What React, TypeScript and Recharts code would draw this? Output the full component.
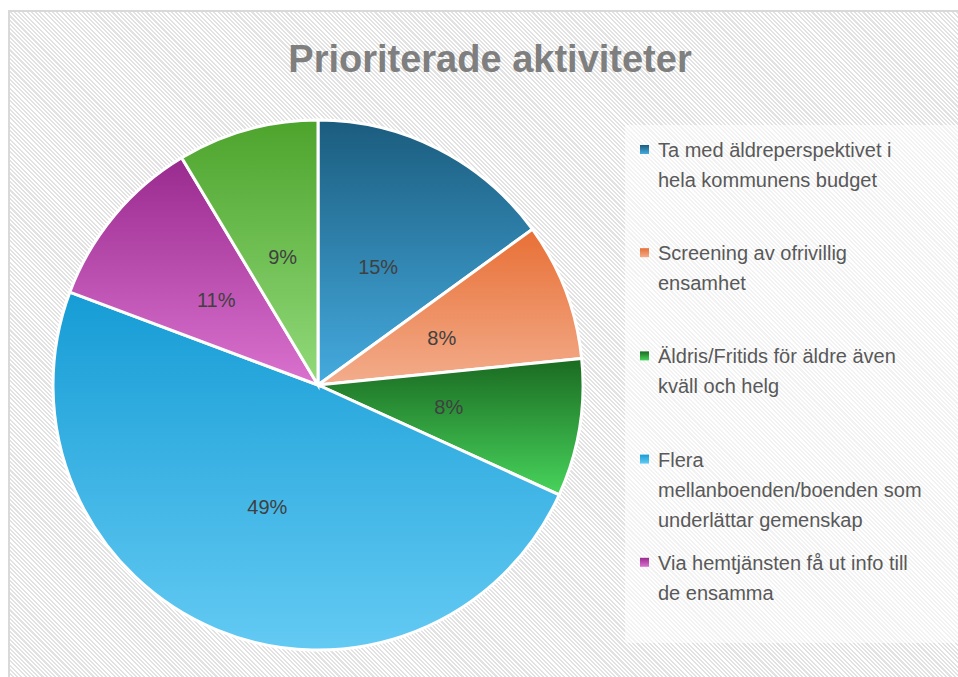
import React from "react";
import { PieChart, Pie, Cell, Legend } from "recharts";

const categories: string[] = [
  "Ta med äldreperspektivet i hela kommunens budget",
  "Screening av ofrivillig ensamhet",
  "Äldris/Fritids för äldre även kväll och helg",
  "Flera mellanboenden/boenden som underlättar gemenskap",
  "Via hemtjänsten få ut info till de ensamma",
  "",
];
const values: number[] = [15.0, 8.4, 8.4, 48.9, 10.7, 8.6];
const legendLines: string[][] = [
  ["Ta med äldreperspektivet i", "hela kommunens budget"],
  ["Screening av ofrivillig", "ensamhet"],
  ["Äldris/Fritids för äldre även", "kväll och helg"],
  ["Flera", "mellanboenden/boenden som", "underlättar gemenskap"],
  ["Via hemtjänsten få ut info till", "de ensamma"],
];
const gradTop: string[] = ["#1b5c7e", "#e86f35", "#1a6a21", "#169cd5", "#992a8e", "#4da42c"];
const gradBottom: string[] = ["#45abdf", "#f3ad8c", "#48d45c", "#63caf3", "#da72cf", "#92da7b"];
const title = "Prioriterade aktiviteter";

const data = categories.map((name, i) => ({ name, value: values[i] }));

const RAD = Math.PI / 180;

const renderLabel = (props: any) => {
  const { cx, cy, midAngle, outerRadius, percent } = props;
  const r = outerRadius * 0.5;
  const x = cx + r * Math.cos(-midAngle * RAD);
  const y = cy + r * Math.sin(-midAngle * RAD);
  return (
    <text
      x={x}
      y={y}
      fill="#404040"
      textAnchor="middle"
      dominantBaseline="central"
      fontFamily="'Liberation Sans', Arial, sans-serif"
      fontSize={20}
    >
      {`${Math.round(percent * 100)}%`}
    </text>
  );
};

const LegendContent = () => (
  <svg width={340} height={520} style={{ display: "block" }}>
    <defs>
      {gradTop.map((c, i) => (
        <linearGradient key={i} id={`lg${i}`} x1="0" y1="0" x2="0" y2="1">
          <stop offset="0%" stopColor={c} />
          <stop offset="100%" stopColor={gradBottom[i]} />
        </linearGradient>
      ))}
    </defs>
    <rect x={0} y={0} width={340} height={518} fill="#ffffff" fillOpacity={0.55} />
    {legendLines.map((lines, i) => {
      const base = 32 + i * 103.2;
      return (
        <g key={i}>
          <rect x={15} y={base - 12} width={9} height={9} fill={`url(#lg${i})`} />
          {lines.map((ln, j) => (
            <text
              key={j}
              x={33}
              y={base + j * 30}
              fill="#595959"
              fontFamily="'Liberation Sans', Arial, sans-serif"
              fontSize={20}
            >
              {ln}
            </text>
          ))}
        </g>
      );
    })}
  </svg>
);

export default function App() {
  return (
    <div style={{ position: "absolute", left: 0, top: 0, width: 958, height: 677, overflow: "hidden", background: "#ffffff" }}>
      <div
        style={{
          position: "absolute",
          left: 8,
          top: 10,
          width: 1000,
          height: 720,
          border: "2px solid #d9d9d9",
          background:
            "repeating-linear-gradient(45deg, #ffffff 0px, #ffffff 1.5px, #e2e2e2 1.5px, #e2e2e2 3px)",
        }}
      />
      <div style={{ position: "absolute", left: 0, top: 0 }}>
        <PieChart width={958} height={677}>
          <defs>
            {gradTop.map((c, i) => (
              <linearGradient key={i} id={`pg${i}`} x1="0" y1="0" x2="0" y2="1">
                <stop offset="0%" stopColor={c} />
                <stop offset="100%" stopColor={gradBottom[i]} />
              </linearGradient>
            ))}
          </defs>
          <text
            x={490}
            y={72}
            textAnchor="middle"
            fill="#7f7f7f"
            fontFamily="'Liberation Sans', Arial, sans-serif"
            fontWeight="bold"
            fontSize={38}
          >
            {title}
          </text>
          <Pie
            data={data}
            dataKey="value"
            nameKey="name"
            cx={313}
            cy={380}
            outerRadius={265}
            startAngle={90}
            endAngle={-270}
            stroke="#ffffff"
            strokeWidth={3}
            label={renderLabel}
            labelLine={false}
            isAnimationActive={false}
          >
            {data.map((d, i) => (
              <Cell key={i} fill={`url(#pg${i})`} />
            ))}
          </Pie>
          <Legend
            content={<LegendContent />}
            wrapperStyle={{ position: "absolute", left: 625, top: 125, width: 340, height: 520 }}
          />
        </PieChart>
      </div>
    </div>
  );
}
